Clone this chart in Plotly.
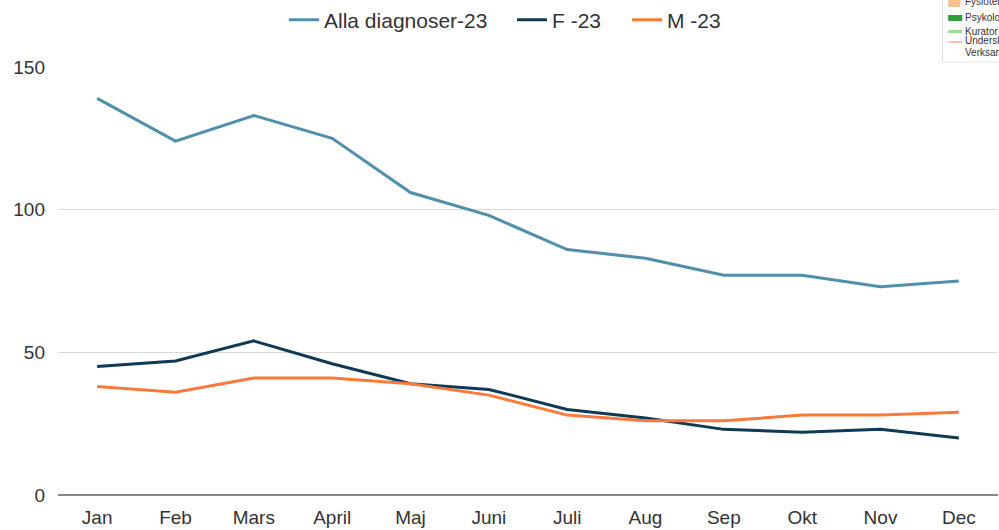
import plotly.graph_objects as go

months = ["Jan", "Feb", "Mars", "April", "Maj", "Juni", "Juli", "Aug", "Sep", "Okt", "Nov", "Dec"]
alla = [139, 124, 133, 125, 106, 98, 86, 83, 77, 77, 73, 75]
f23 = [45, 47, 54, 46, 39, 37, 30, 27, 23, 22, 23, 20]
m23 = [38, 36, 41, 41, 39, 35, 28, 26, 26, 28, 28, 29]
y_ticks = [0, 50, 100, 150]

fig = go.Figure()
fig.add_trace(go.Scatter(x=months, y=alla, mode="lines", name="Alla diagnoser-23",
                         line=dict(color="#528fac", width=3), legend="legend"))
fig.add_trace(go.Scatter(x=months, y=f23, mode="lines", name="F -23",
                         line=dict(color="#0e3a55", width=3), legend="legend2"))
fig.add_trace(go.Scatter(x=months, y=m23, mode="lines", name="M -23",
                         line=dict(color="#f77a3a", width=3), legend="legend3"))

W, H = 999, 530
def cy(py):
    return 1 - py / H
def cx(px):
    return px / W

# cropped legend fragment in top-right corner
fig.add_shape(type="rect", xref="paper", yref="paper", x0=0.941, x1=1.02, y0=1.0114, y1=1.17,
              line=dict(color="#e3e3e3", width=1), fillcolor="white")
fig.add_shape(type="rect", xref="paper", yref="paper", x0=0.947, x1=0.96, y0=1.1402, y1=1.17,
              line=dict(width=0), fillcolor="#f9c08f")
fig.add_shape(type="rect", xref="paper", yref="paper", x0=0.947, x1=0.962, y0=1.1075, y1=1.1215,
              line=dict(width=0), fillcolor="#2e9e3e")
fig.add_shape(type="rect", xref="paper", yref="paper", x0=0.947, x1=0.962, y0=1.0794, y1=1.0864,
              line=dict(width=0), fillcolor="#9fdc92")
fig.add_shape(type="line", xref="paper", yref="paper", x0=0.947, x1=0.962, y0=1.0584, y1=1.0584,
              line=dict(color="#f08080", width=1))
for txt, yy in [("Fysioter", 1.154), ("Psykolo", 1.1145), ("Kurator", 1.0818), ("Undersk", 1.0630), ("Verksam", 1.0340)]:
    fig.add_annotation(text=txt, xref="paper", yref="paper", x=0.9625, y=yy, xanchor="left",
                       yanchor="middle", showarrow=False,
                       font=dict(family="Liberation Sans, Arial", size=10, color="#333333"))

leg_common = dict(orientation="h", xanchor="left", xref="container", y=cy(20),
                  yanchor="middle", yref="container", font=dict(size=21, color="#333333"),
                  bgcolor="rgba(0,0,0,0)")

fig.update_layout(
    width=W, height=H,
    margin=dict(l=58, r=1, t=67, b=35, autoexpand=False),
    paper_bgcolor="white", plot_bgcolor="white",
    font=dict(family="Liberation Sans, Arial, sans-serif", size=18, color="#333333"),
    legend=dict(x=cx(284), **leg_common),
    legend2=dict(x=cx(512), **leg_common),
    legend3=dict(x=cx(627), **leg_common),
    showlegend=True,
)
fig.update_xaxes(showgrid=False, showline=False, ticks="", tickfont=dict(size=19, color="#333333"),
                 range=[-0.5, 11.5], automargin=False, ticklabelstandoff=9)
fig.update_yaxes(range=[0, 150], tickvals=y_ticks, showgrid=True, gridcolor="#d9d9d9", gridwidth=1,
                 zeroline=True, zerolinecolor="#888888", zerolinewidth=1.5, automargin=False,
                 tickfont=dict(size=19, color="#333333"), ticks="", ticklabelstandoff=12)

fig.write_html("out.html", config={"displayModeBar": False},
               post_script="document.body.style.margin='0';document.body.style.overflow='hidden';")
